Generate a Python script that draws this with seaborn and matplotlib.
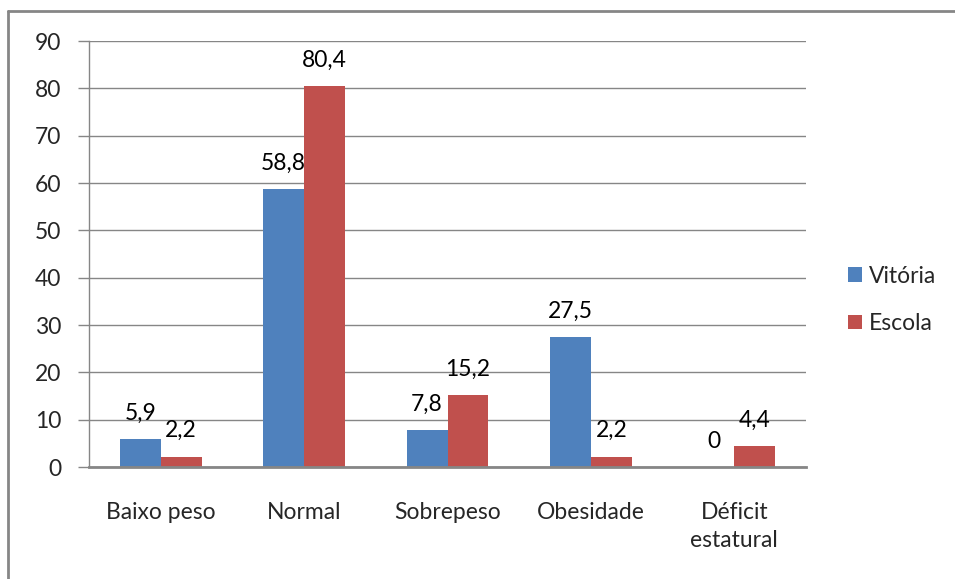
import matplotlib
matplotlib.use("Agg")
import matplotlib.pyplot as plt
from matplotlib.lines import Line2D
from matplotlib.patches import Patch
import numpy as np
import pandas as pd
import seaborn as sns

categorias = ['Baixo peso', 'Normal', 'Sobrepeso', 'Obesidade', 'Déficit\nestatural']
vitoria = [5.9, 58.8, 7.8, 27.5, 0]
escola = [2.2, 80.4, 15.2, 2.2, 4.4]
grupos = ['Vitória', 'Escola']
cores = ['#4F81BD', '#C0504D']

df = pd.DataFrame({
    'categoria': categorias * 2,
    'valor': vitoria + escola,
    'grupo': [grupos[0]] * len(categorias) + [grupos[1]] * len(categorias),
})

sns.set_style('white')
plt.rcParams['font.family'] = ['Lato', 'DejaVu Sans']
fs = 16.5
plt.rcParams['font.size'] = fs

fig = plt.figure(figsize=(9.55, 5.79), dpi=100)
ax = fig.add_axes([89/955, 1 - 467/579, (806-89)/955, (467-41)/579])

sns.barplot(data=df, x='categoria', y='valor', hue='grupo', palette=cores,
            width=0.57, gap=0, dodge=True, ax=ax, legend=False, errorbar=None,
            saturation=1, linewidth=0)

for cont in ax.containers:
    labels = [('%g' % v).replace('.', ',') for v in cont.datavalues]
    ax.bar_label(cont, labels=labels, padding=11, fontsize=fs, color='black')

ax.set_ylim(0, 90)
ax.set_xlim(-0.5, 4.5)
ax.set_yticks(np.arange(0, 91, 10))
ax.yaxis.grid(True, color='#868686', linewidth=1)
ax.set_axisbelow(True)
ax.set_xlabel('')
ax.set_ylabel('')

ax.set_xticks(range(len(categorias)))
ax.set_xticklabels(categorias, fontsize=fs, linespacing=1.45)
ax.set_xticks(np.arange(-0.5, 5, 1), minor=True)
ax.tick_params(axis='x', which='major', length=0, pad=25)
ax.tick_params(axis='x', which='minor', length=10, width=1.5, color='#868686', direction='out')
ax.tick_params(axis='y', length=8, width=1, color='#868686', pad=12, labelsize=fs, left=True)

for s in ['top', 'right']:
    ax.spines[s].set_visible(False)
ax.spines['left'].set_color('#868686')
ax.spines['left'].set_linewidth(1)
ax.spines['bottom'].set_color('#868686')
ax.spines['bottom'].set_linewidth(2)

handles = [Patch(facecolor=c, edgecolor='none') for c in cores]
fig.legend(handles, grupos, loc='center left', bbox_to_anchor=(837/955, 1 - 300/579),
           frameon=False, fontsize=fs, handlelength=0.6, handleheight=0.6,
           handletextpad=0.3, labelspacing=1.15, borderpad=0)

fig.add_artist(Line2D([8/955, 8/955], [0, 1 - 11/579], color='#868686', linewidth=2))
fig.add_artist(Line2D([8/955, 1], [1 - 11/579, 1 - 11/579], color='#868686', linewidth=2))

fig.savefig('out.png', dpi=100)
